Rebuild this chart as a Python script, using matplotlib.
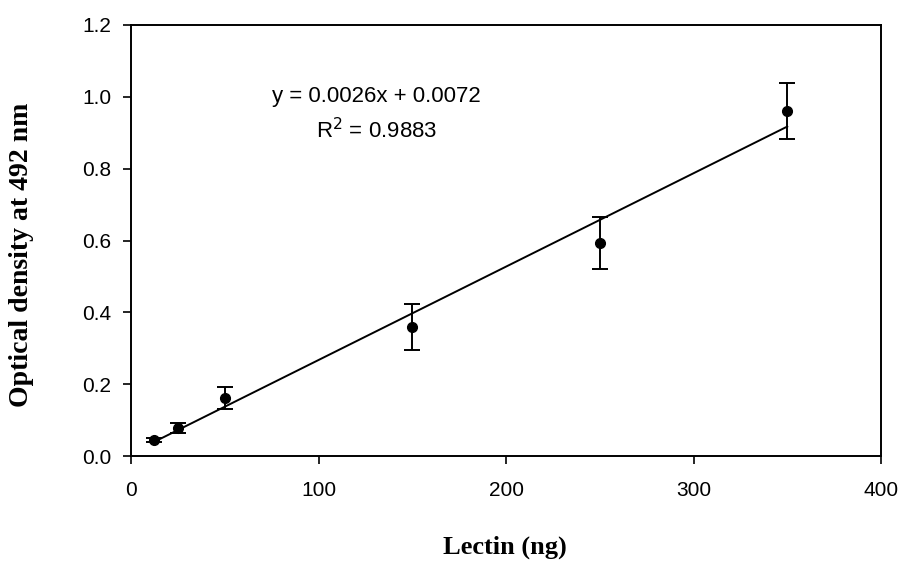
import matplotlib
matplotlib.use("Agg")
import matplotlib.pyplot as plt
import numpy as np

lectin_ng = [12.5, 25, 50, 150, 250, 350]
optical_density = [0.045, 0.078, 0.161, 0.360, 0.593, 0.961]
od_error = [0.005, 0.014, 0.031, 0.064, 0.072, 0.078]
slope = 0.0026
intercept = 0.0072
equation_text = "y = 0.0026x + 0.0072"
r2_text = "R$^2$ = 0.9883"
x_ticks = [0, 100, 200, 300, 400]
y_ticks = [0.0, 0.2, 0.4, 0.6, 0.8, 1.0, 1.2]

fig = plt.figure(figsize=(9.05, 5.70), dpi=100)
ax = fig.add_axes([131/905, 114/570, 750/905, 431/570])

fit_x = np.array([lectin_ng[0], lectin_ng[-1]])
ax.plot(fit_x, slope * fit_x + intercept, color="black", lw=1.4)
ax.errorbar(lectin_ng, optical_density, yerr=od_error, fmt="o", color="black",
            markersize=7, capsize=6, elinewidth=1.4, capthick=1.4)

ax.set_xlim(0, 400)
ax.set_ylim(0, 1.2)
ax.set_xticks(x_ticks)
ax.set_yticks(y_ticks)
ax.set_xticklabels([str(v) for v in x_ticks])
ax.set_yticklabels([f"{v:.1f}" for v in y_ticks])
for sp in ax.spines.values():
    sp.set_linewidth(1.4)
ax.tick_params(direction="out", length=6, width=1.2, labelsize=15)
ax.tick_params(axis="x", pad=12)
ax.tick_params(axis="y", pad=8)
for lbl in ax.get_xticklabels() + ax.get_yticklabels():
    lbl.set_family("Liberation Sans")

ax.text(0.327, 0.835, equation_text, transform=ax.transAxes, ha="center", va="center",
        fontsize=16, family="Liberation Sans")
ax.text(0.327, 0.755, r2_text, transform=ax.transAxes, ha="center", va="center",
        fontsize=16, family="Liberation Sans")

fig.text(505/905, 1 - 547/570, "Lectin (ng)", ha="center", va="center",
         fontsize=19, fontweight="bold", family="Liberation Serif")
fig.text(22/905, 1 - 255/570, "Optical density at 492 nm", ha="center", va="center",
         rotation=90, fontsize=20, fontweight="bold", family="Liberation Serif")

fig.savefig("out.png", dpi=100)
